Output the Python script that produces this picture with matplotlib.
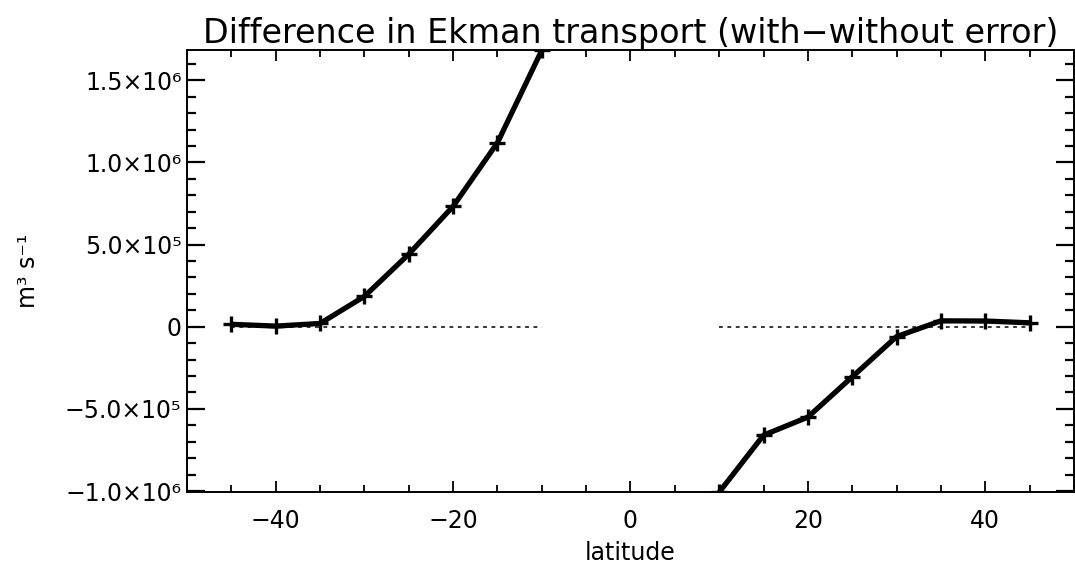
import numpy as np
import matplotlib
matplotlib.use("Agg")
import matplotlib.pyplot as plt
from matplotlib.ticker import MultipleLocator, FixedLocator, FixedFormatter

# latitude bands (south / north of the equatorial gap)
lat_south = [-45, -40, -35, -30, -25, -20, -15, -10]
diff_south = [1.5e4, 4e3, 2.0e4, 1.85e5, 4.42e5, 7.33e5, 1.12e6, 1.683e6]
lat_north = [10, 15, 20, 25, 30, 35, 40, 45]
diff_north = [-1.007e6, -6.6e5, -5.5e5, -3.05e5, -6.0e4, 3.6e4, 3.5e4, 2.4e4]

ytick_vals = [-1.0e6, -5.0e5, 0, 5.0e5, 1.0e6, 1.5e6]
ytick_labels = ["\u22121.0\u00d710\u2076", "\u22125.0\u00d710\u2075", "0",
                "5.0\u00d710\u2075", "1.0\u00d710\u2076", "1.5\u00d710\u2076"]

plt.rcParams["font.family"] = "DejaVu Sans"

fig = plt.figure(figsize=(10.75, 5.71), dpi=100)
ax = fig.add_axes([0.174, 0.138, 0.825, 0.774])

# zero reference, dotted
for lat in (lat_south, lat_north):
    ax.plot([lat[0], lat[-1]], [0, 0], color="black", lw=1.1,
            linestyle=(0, (2.5, 3)), zorder=1)

for lat, d in ((lat_south, diff_south), (lat_north, diff_north)):
    ax.plot(lat, d, color="black", lw=3.8, marker="+", ms=11, mew=2.4,
            solid_capstyle="butt", zorder=2)

ax.set_xlim(-50, 50)
ax.set_ylim(min(diff_north), max(diff_south))

ax.xaxis.set_major_locator(MultipleLocator(20))
ax.xaxis.set_minor_locator(MultipleLocator(5))
ax.yaxis.set_major_locator(FixedLocator(ytick_vals))
ax.yaxis.set_major_formatter(FixedFormatter(ytick_labels))
ax.yaxis.set_minor_locator(MultipleLocator(1e5))
ax.xaxis.set_major_formatter(plt.FuncFormatter(lambda v, p: f"{v:.0f}".replace("-", "\u2212")))

ax.tick_params(axis="both", which="both", direction="in", top=True, right=True,
               colors="black", labelsize=17)
ax.tick_params(axis="x", which="major", length=8, width=1.3, pad=12)
ax.tick_params(axis="x", which="minor", length=5, width=1.3)
ax.tick_params(axis="y", which="major", length=13, width=1.6, pad=4)
ax.tick_params(axis="y", which="minor", length=6.5, width=1.6)
for s in ax.spines.values():
    s.set_linewidth(1.4)

ax.set_title("Difference in Ekman transport (with\u2212without error)",
             fontsize=24, pad=5)
ax.set_xlabel("latitude", fontsize=17, labelpad=6)
ax.set_ylabel("m\u00b3 s\u207b\u00b9", fontsize=17, labelpad=18)

fig.savefig("out.png", dpi=100)
